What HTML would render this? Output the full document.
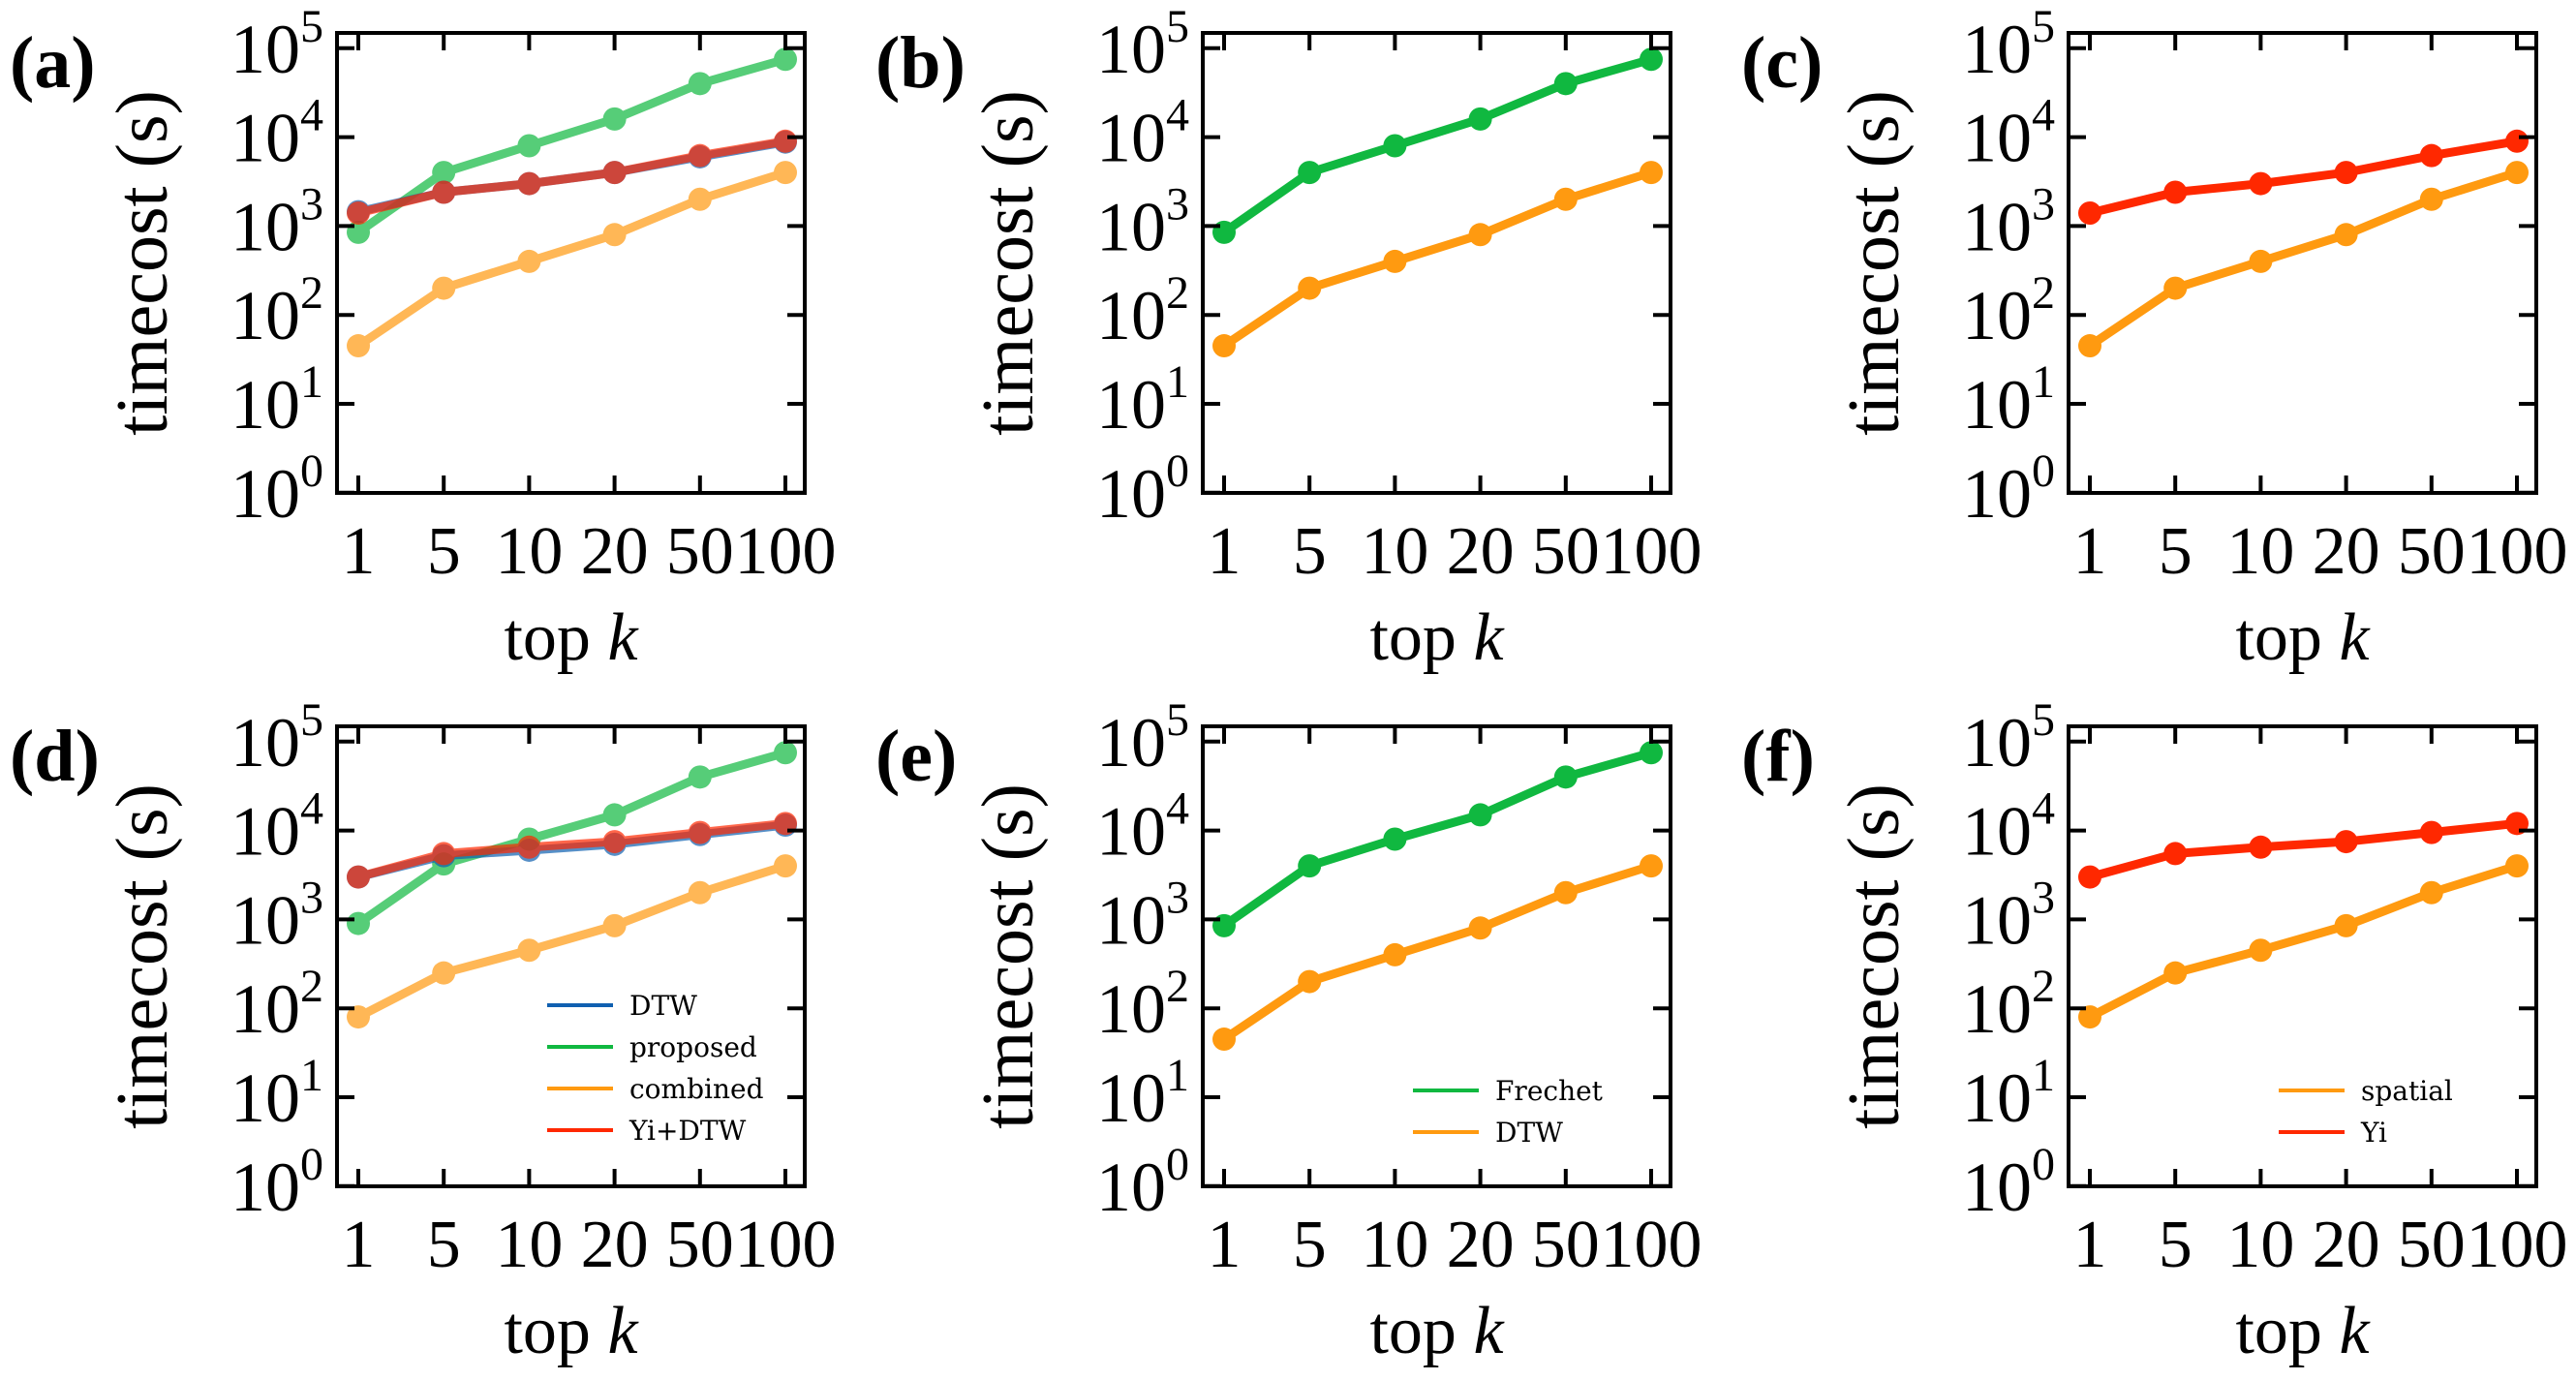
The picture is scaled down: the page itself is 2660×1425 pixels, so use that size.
<!DOCTYPE html>
<html><head><meta charset="utf-8"><style>
html,body{margin:0;padding:0;background:#fff}
svg{display:block}
text{font-family:"Liberation Serif",serif;fill:#000}
</style></head><body>
<svg id="fig" width="2660" height="1425" viewBox="0 0 2660 1425"></svg>
<script>
const categories = ["1","5","10","20","50","100"];
const yTickExps = [0,1,2,3,4,5];
const aProposed = [850,4000,8000,16000,40000,75000];
const aDTW = [1450,2400,3000,4000,6000,8800];
const aCombined = [45,200,400,800,2000,4000];
const aYiDTW = [1400,2400,3000,4000,6200,9000];
const dProposed = [900,4200,8000,15000,40000,75000];
const dDTW = [3000,5200,6000,7000,9000,11500];
const dCombined = [80,250,450,850,2000,4000];
const dYiDTW = [3000,5500,6500,7500,9500,12000];
const bFrechet = [850,4000,8000,16000,40000,75000];
const bDTW = [45,200,400,800,2000,4000];
const cSpatial = [45,200,400,800,2000,4000];
const cYi = [1400,2400,3000,4000,6200,9000];
const eFrechet = [850,4000,8000,15000,40000,75000];
const eDTW = [45,200,400,800,2000,4000];
const fSpatial = [80,250,450,850,2000,4000];
const fYi = [3000,5500,6500,7500,9500,12000];

const GREEN="#10b840", ORANGE="#ff9a10", RED="#ff2800", BLUE="#1060b0";
const NS="http://www.w3.org/2000/svg";
const svg=document.getElementById('fig');
function mk(tag,attrs,parent){const e=document.createElementNS(NS,tag);for(const k in attrs)e.setAttribute(k,attrs[k]);(parent||svg).appendChild(e);return e;}

const panels=[
 {lab:"(a)",col:0,row:0,series:[[aProposed,GREEN,0.7,"proposed"],[aCombined,ORANGE,0.7,"combined"],[aDTW,BLUE,0.7,"DTW"],[aYiDTW,RED,0.7,"yi-dtw"]],legend:null},
 {lab:"(b)",col:1,row:0,series:[[bFrechet,GREEN,1,"frechet"],[bDTW,ORANGE,1,"dtw"]],legend:null},
 {lab:"(c)",col:2,row:0,series:[[cSpatial,ORANGE,1,"spatial"],[cYi,RED,1,"yi"]],legend:null},
 {lab:"(d)",col:0,row:1,series:[[dProposed,GREEN,0.7,"proposed"],[dCombined,ORANGE,0.7,"combined"],[dDTW,BLUE,0.7,"DTW"],[dYiDTW,RED,0.7,"yi-dtw"]],legend:[["DTW",BLUE],["proposed",GREEN],["combined",ORANGE],["Yi+DTW",RED]],legendY:1038},
 {lab:"(e)",col:1,row:1,series:[[eFrechet,GREEN,1,"frechet"],[eDTW,ORANGE,1,"dtw"]],legend:[["Frechet",GREEN],["DTW",ORANGE]],legendY:1126},
 {lab:"(f)",col:2,row:1,series:[[fSpatial,ORANGE,1,"spatial"],[fYi,RED,1,"yi"]],legend:[["spatial",ORANGE],["Yi",RED]],legendY:1126}
];

panels.forEach(p=>{
  const L=348+p.col*894, R=L+483, T=34+p.row*716, B=T+475;
  const g=mk('g',{});
  
  
  const xs=i=>L+22+i*88.2;
  const ys=v=>T+15.8+(5-Math.log10(v))*91.8;
  const pl=mk('text',{x:10+p.col*894,y:T+56,'font-size':76,'font-weight':'bold'},g);
  pl.textContent=p.lab;
  
  
  p.series.forEach(s=>{
    const sg=mk('g',{opacity:s[2]},g);
    
    
    const pts=s[0].map((v,i)=>xs(i)+','+ys(v)).join(' ');
    const pl2=mk('polyline',{points:pts,fill:'none',stroke:s[1],'stroke-width':9,'stroke-linejoin':'round'},sg);
    
    
    s[0].forEach((v,i)=>{
      const c=mk('circle',{cx:xs(i),cy:ys(v),r:12,fill:s[1]},sg);
      
      
    });
  });
  const box=mk('rect',{x:L,y:T,width:R-L,height:B-T,fill:'none',stroke:'#000','stroke-width':4},g);
  
  
  categories.forEach((c,i)=>{
    const x=xs(i);
    mk('line',{x1:x,y1:B,x2:x,y2:B-18,stroke:'#000','stroke-width':4},g);
    mk('line',{x1:x,y1:T,x2:x,y2:T+18,stroke:'#000','stroke-width':4},g);
    const t=mk('text',{x:x,y:B+83,'font-size':70,'text-anchor':'middle'},g);
    t.textContent=c;
    
    
  });
  yTickExps.forEach(e=>{
    const y=ys(Math.pow(10,e));
    mk('line',{x1:L,y1:y,x2:L+18,y2:y,stroke:'#000','stroke-width':4},g);
    mk('line',{x1:R,y1:y,x2:R-18,y2:y,stroke:'#000','stroke-width':4},g);
    const t=mk('text',{x:L-14,y:y+25,'font-size':72,'text-anchor':'end'},g);
    
    
    const t1=mk('tspan',{},t);t1.textContent='10';
    const t2=mk('tspan',{'font-size':48,dy:-32},t);t2.textContent=String(e);
  });
  const xt=mk('text',{x:(L+R)/2,y:B+172,'font-size':70,'text-anchor':'middle'},g);
  
  
  const a1=mk('tspan',{},xt);a1.textContent='top ';
  const a2=mk('tspan',{'font-style':'italic'},xt);a2.textContent='k';
  const yt=mk('text',{x:0,y:0,'font-size':76,'text-anchor':'middle',transform:`translate(${L-176},${(T+B)/2}) rotate(-90)`},g);
  yt.textContent='timecost (s)';
  
  
  if(p.legend){
    const lg=mk('g',{},g);
    
    
    const lx=L+217;
    p.legend.forEach((it,k)=>{
      const y=p.legendY+k*43;
      const ln=mk('line',{x1:lx,y1:y,x2:lx+68,y2:y,stroke:it[1],'stroke-width':4},lg);
      
      
      const t=mk('text',{x:lx+85,y:y+10,'font-size':28,style:'font-family:"DejaVu Serif",serif'},lg);
      t.textContent=it[0];
      
      
    });
  }
});
</script>
</body></html>
